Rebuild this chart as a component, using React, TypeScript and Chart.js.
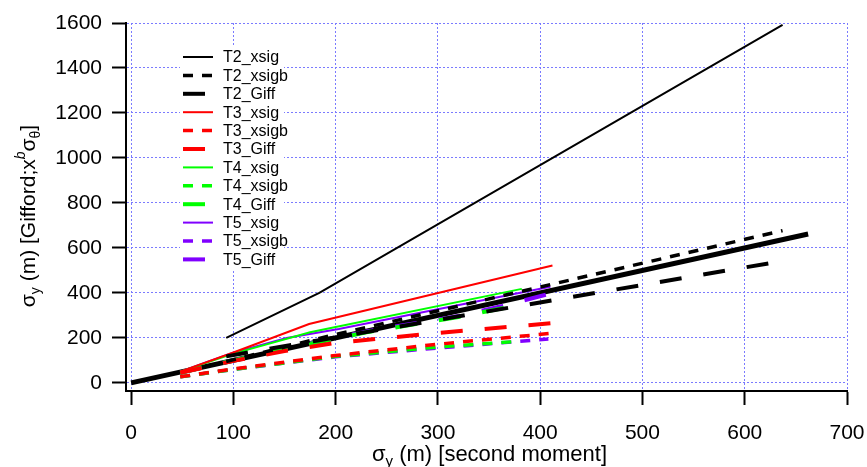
import React, { useEffect, useRef } from 'react';
import { Chart, registerables } from 'chart.js';

Chart.register(...registerables);

// ---- tick values ----
const xTickValues = [0, 100, 200, 300, 400, 500, 600, 700];
const yTickValues = [0, 200, 400, 600, 800, 1000, 1200, 1400, 1600];

// ---- 1:1 reference line ----
const oneToOneX = [0, 662];
const oneToOneY = [0, 662];

// ---- T2 ----
const t2X = [93, 184, 637];
const t2XsigY = [200, 400, 1592];
const t2XsigbY = [95, 198, 677];
const t2GiffY = [118, 190, 542];

// ---- T3 ----
const t3XsigX = [48, 100, 174, 412];
const t3XsigY = [50, 135, 262, 522];
const t3XsigbX = [48, 100, 200, 300, 410];
const t3XsigbY = [27, 62, 122, 172, 220];
const t3GiffX = [48, 100, 150, 200, 300, 410];
const t3GiffY = [45, 98, 142, 178, 222, 265];

// ---- T4 ----
const t4XsigX = [48, 100, 175, 382];
const t4XsigY = [50, 130, 225, 418];
const t4XsigbX = [48, 100, 200, 300, 380];
const t4XsigbY = [27, 60, 118, 160, 185];
const t4GiffX = [48, 100, 160, 230, 320, 378];
const t4GiffY = [45, 100, 160, 225, 293, 345];

// ---- T5 ----
const t5XsigX = [48, 99, 152, 203, 410];
const t5XsigY = [50, 133, 200, 240, 427];
const t5XsigbX = [48, 100, 200, 300, 408];
const t5XsigbY = [27, 60, 116, 155, 195];
const t5GiffX = [48, 100, 160, 230, 320, 363, 408];
const t5GiffY = [45, 100, 162, 229, 297, 342, 395];

const FONT = '"Liberation Sans", Arial, sans-serif';

const pts = (xs: number[], ys: number[]) => xs.map((x, i) => ({ x, y: ys[i] }));

const BLACK = '#000000';
const RED = '#ff0000';
const GREEN = '#00ff00';
const PURPLE = '#8000ff';

const solid = { borderWidth: 2, borderDash: [] as number[] };
const shortDash = { borderWidth: 3.5, borderDash: [10, 9] };
const longDash = { borderWidth: 4, borderDash: [22, 22] };

function ds(label: string, color: string, style: any, data: any[]) {
  return {
    label,
    data,
    borderColor: color,
    backgroundColor: color,
    borderWidth: style.borderWidth,
    borderDash: style.borderDash,
    borderCapStyle: 'butt',
    showLine: true,
    pointRadius: 0,
    pointHoverRadius: 0,
    tension: 0,
    fill: false,
  };
}

const legendPlugin = {
  id: 'insideLegend',
  afterDatasetsDraw(chart: any) {
    const ctx = chart.ctx;
    const area = chart.chartArea;
    const bx = area.left + 54;
    const by = area.top + 24;
    ctx.save();
    ctx.fillStyle = '#ffffff';
    ctx.fillRect(bx, by, 104, 223);
    const items = chart.data.datasets.filter((d: any) => d.label);
    items.forEach((d: any, i: number) => {
      const y = by + 10 + i * 18.4;
      ctx.strokeStyle = d.borderColor;
      ctx.lineWidth = d.borderWidth;
      ctx.lineCap = 'butt';
      ctx.setLineDash(d.borderDash || []);
      ctx.beginPath();
      ctx.moveTo(bx + 3, y);
      ctx.lineTo(bx + 33, y);
      ctx.stroke();
      ctx.setLineDash([]);
      ctx.fillStyle = '#000';
      ctx.font = `16px ${FONT}`;
      ctx.textBaseline = 'middle';
      ctx.textAlign = 'left';
      ctx.fillText(d.label, bx + 43, y + 1);
    });
    ctx.restore();
  },
};

type Part = { t: string; size: number; dy?: number; italic?: boolean };

function drawRich(ctx: CanvasRenderingContext2D, parts: Part[], cx: number, cy: number) {
  let total = 0;
  const widths = parts.map((p) => {
    ctx.font = `${p.italic ? 'italic ' : ''}${p.size}px ${FONT}`;
    const w = ctx.measureText(p.t).width;
    total += w;
    return w;
  });
  let x = cx - total / 2;
  ctx.textAlign = 'left';
  ctx.textBaseline = 'alphabetic';
  parts.forEach((p, i) => {
    ctx.font = `${p.italic ? 'italic ' : ''}${p.size}px ${FONT}`;
    ctx.fillText(p.t, x, cy + (p.dy || 0));
    x += widths[i];
  });
}

const titlePlugin = {
  id: 'axisTitles',
  afterDraw(chart: any) {
    const ctx = chart.ctx;
    const area = chart.chartArea;
    ctx.save();
    ctx.fillStyle = '#000';
    drawRich(
      ctx,
      [
        { t: 'σ', size: 22 },
        { t: 'y', size: 15, dy: 5 },
        { t: ' (m) [second moment]', size: 22 },
      ],
      (area.left + area.right) / 2 + 3,
      461
    );
    ctx.translate(35, 216);
    ctx.rotate(-Math.PI / 2);
    drawRich(
      ctx,
      [
        { t: 'σ', size: 21 },
        { t: 'y', size: 14, dy: 5 },
        { t: ' (m) [Gifford;x', size: 21 },
        { t: 'b', size: 14, dy: -10, italic: true },
        { t: 'σ', size: 21 },
        { t: 'θ', size: 14, dy: 5 },
        { t: ']', size: 21 },
      ],
      0,
      0
    );
    ctx.restore();
  },
};

export default function App() {
  const canvasRef = useRef<HTMLCanvasElement | null>(null);

  useEffect(() => {
    const canvas = canvasRef.current;
    if (!canvas) return;
    const datasets = [
      ds('T2_xsig', BLACK, solid, pts(t2X, t2XsigY)),
      ds('T2_xsigb', BLACK, shortDash, pts(t2X, t2XsigbY)),
      ds('T2_Giff', BLACK, longDash, pts(t2X, t2GiffY)),
      ds('T3_xsig', RED, solid, pts(t3XsigX, t3XsigY)),
      ds('T3_xsigb', RED, shortDash, pts(t3XsigbX, t3XsigbY)),
      ds('T3_Giff', RED, longDash, pts(t3GiffX, t3GiffY)),
      ds('T4_xsig', GREEN, solid, pts(t4XsigX, t4XsigY)),
      ds('T4_xsigb', GREEN, shortDash, pts(t4XsigbX, t4XsigbY)),
      ds('T4_Giff', GREEN, longDash, pts(t4GiffX, t4GiffY)),
      ds('T5_xsig', PURPLE, solid, pts(t5XsigX, t5XsigY)),
      ds('T5_xsigb', PURPLE, shortDash, pts(t5XsigbX, t5XsigbY)),
      ds('T5_Giff', PURPLE, longDash, pts(t5GiffX, t5GiffY)),
      ds('', BLACK, { borderWidth: 5, borderDash: [] }, pts(oneToOneX, oneToOneY)),
    ];

    const gridCommon = {
      display: true,
      drawOnChartArea: true,
      drawTicks: true,
      color: '#7a7aff',
      lineWidth: 1,
      tickLength: 14,
      tickColor: '#000',
      tickWidth: 2,
      tickBorderDash: [],
    };
    const borderCommon = { display: true, color: '#000', width: 2, dash: [2, 2] };

    const chart = new Chart(canvas, {
      type: 'scatter',
      data: { datasets: datasets as any },
      options: {
        responsive: false,
        animation: false,
        devicePixelRatio: 1,
        layout: { padding: { top: 23, right: 20, left: 0, bottom: 0 } },
        plugins: {
          legend: { display: false },
          tooltip: { enabled: false },
        },
        scales: {
          x: {
            type: 'linear',
            min: -5,
            max: 700,
            grid: gridCommon as any,
            border: borderCommon as any,
            ticks: {
              color: '#000',
              font: { family: FONT, size: 21 },
              padding: 16,
              maxRotation: 0,
              callback: (v: any) => String(v),
            },
            afterBuildTicks: (scale: any) => {
              scale.ticks = xTickValues.map((v) => ({ value: v }));
            },
            afterFit: (scale: any) => {
              scale.height = 76;
              scale.paddingLeft = 0;
              scale.paddingRight = 0;
            },
          },
          y: {
            type: 'linear',
            min: -36,
            max: 1600,
            grid: gridCommon as any,
            border: borderCommon as any,
            ticks: {
              color: '#000',
              font: { family: FONT, size: 21 },
              padding: 10,
              callback: (v: any) => String(v),
            },
            afterBuildTicks: (scale: any) => {
              scale.ticks = yTickValues.map((v) => ({ value: v }));
            },
            afterFit: (scale: any) => {
              scale.width = 126;
              scale.paddingTop = 0;
              scale.paddingBottom = 0;
            },
          },
        },
      },
      plugins: [legendPlugin, titlePlugin],
    });
    return () => chart.destroy();
  }, []);

  return (
    <div style={{ position: 'fixed', left: 0, top: 0, width: 867, height: 467, background: '#fff' }}>
      <canvas ref={canvasRef} width={867} height={467} style={{ display: 'block', width: 867, height: 467 }} />
    </div>
  );
}
